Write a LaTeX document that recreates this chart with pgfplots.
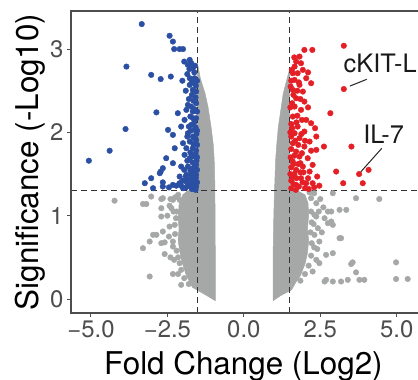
\documentclass[border=0pt]{standalone}
\usepackage{pgfplots}
\pgfplotsset{compat=1.18}
\usepackage{fontspec}
\setmainfont{TeX Gyre Heros}
\definecolor{bluept}{HTML}{2B4FA2}
\definecolor{redpt}{HTML}{E41F26}
\definecolor{graypt}{HTML}{A6A8A8}
\definecolor{axgray}{HTML}{4D4D4D}
\definecolor{dashc}{HTML}{333333}
\begin{document}
\begin{tikzpicture}
\begin{axis}[
  at={(0,0)}, anchor=south west, scale only axis,
  width=347bp, height=302bp,
  xmin=-5.654, xmax=5.697, ymin=-0.168, ymax=3.457,
  axis line style={draw=none},
  xtick={-5,-2.5,0,2.5,5}, xticklabels={−5.0,−2.5,0.0,2.5,5.0},
  ytick={0,1,2,3}, yticklabels={0,1,2,3},
  tick align=outside, xtick pos=bottom, ytick pos=left,
  major tick length=4bp,
  tick style={axgray, line width=1bp},
  ticklabel style={font=\fontsize{24}{24}\selectfont, text=axgray},
  xlabel={Fold Change (Log2)},
  ylabel={Significance (-Log10)},
  xlabel style={at={(axis description cs:0.497,-0.202)}, anchor=base, font=\fontsize{31.5}{31.5}\selectfont, text=black},
  ylabel style={at={(axis description cs:-0.118,0.5)}, anchor=center, font=\fontsize{31.5}{31.5}\selectfont, text=black},
  clip=false,
  every axis plot/.append style={line join=round},
]
% dense gray regions
\addplot[fill=graypt, draw=graypt, line width=0.5bp] coordinates {
(-0.935,-0.02) (-0.935,0.6) (-0.94,1.0) (-0.95,1.4) (-0.97,1.67) (-1.0,1.85) (-1.07,2.06) (-1.17,2.3) (-1.27,2.47) (-1.35,2.56) (-1.43,2.66) (-1.48,2.76) (-1.52,2.83)
(-1.52,1.3) (-1.84,1.3) (-2.0,1.25) (-2.12,1.13) (-2.15,0.97) (-2.12,0.85) (-2.15,0.71) (-2.1,0.58) (-2.02,0.44) (-1.88,0.28) (-1.68,0.14) (-1.3,0.06)
} -- cycle;
\addplot[fill=graypt, draw=graypt, line width=0.5bp] coordinates {
(0.96,-0.02) (0.96,0.6) (0.98,1.0) (1.0,1.27) (1.04,1.67) (1.08,1.87) (1.13,2.07) (1.21,2.27) (1.29,2.47) (1.37,2.58) (1.44,2.68) (1.5,2.76)
(1.5,1.3) (1.75,1.3) (2.0,1.25) (2.1,1.15) (2.12,1.0) (2.08,0.85) (2.12,0.7) (2.08,0.55) (2.0,0.42) (1.85,0.28) (1.7,0.2) (1.56,0.11) (1.2,0.04)
} -- cycle;
% gray fringe points
\addplot[only marks, mark=*, mark size=2.8bp, color=graypt] coordinates {
(-4.23,1.18) (-3.30,1.14) (-3.19,1.14) (-3.03,1.23) (-2.70,1.20) (-2.65,1.21) (-2.70,1.09) (-2.70,0.99) (-2.43,1.12) (-2.37,1.09) (-2.32,1.19) (-2.10,1.19)
(-2.97,0.77) (-2.86,0.77) (-2.65,0.81) (-3.08,0.69) (-3.30,0.61) (-2.59,0.68) (-2.70,0.67) (-2.59,0.54) (-3.08,0.27) (-2.32,0.30) (-2.05,0.17) (-2.10,0.43)
(-2.32,0.69) (-2.43,0.87) (-2.32,0.63) (-2.26,0.89) (-2.50,1.00) (-2.20,1.05) (-2.25,1.22) (-2.40,0.50) (-2.15,0.30)
(-2.22,0.97) (-2.25,0.78) (-2.20,0.58) (-2.15,0.50) (-2.05,0.35) (-1.95,0.25) (-2.30,1.05) (-2.40,1.20) (-2.15,1.25) (-2.28,0.47) (-2.45,0.75) (-1.80,0.18)
(2.91,1.27) (4.43,1.20) (3.67,1.21) (2.86,1.05) (3.13,1.07) (3.35,1.07) (2.75,1.05) (2.64,0.97) (2.75,0.91) (2.91,0.89) (2.86,0.93) (3.18,0.73) (3.13,0.73)
(2.42,0.85) (2.47,0.69) (2.69,0.53) (2.91,0.55) (3.56,0.44) (3.51,0.42) (3.67,0.32) (2.69,0.23) (2.91,0.21) (3.18,0.21) (3.40,0.23) (3.78,0.23) (3.94,0.23)
(4.98,0.44) (4.98,0.24) (5.36,0.24) (2.37,0.99) (2.47,0.43) (2.25,0.33) (2.64,0.21) (2.37,0.47) (2.31,0.77) (2.31,1.01) (2.20,1.21) (2.37,1.15) (2.50,1.20)
(2.30,0.62) (2.55,0.80) (2.60,1.10) (2.28,0.90)
(2.20,1.05) (2.22,0.92) (2.18,0.80) (2.22,0.67) (2.20,0.52) (2.12,0.40) (2.00,0.30) (1.85,0.22) (2.30,1.27) (2.15,1.28) (2.40,0.60) (2.45,1.05)
};
% blue
\addplot[only marks, mark=*, mark size=2.8bp, color=bluept] coordinates {
(-3.34,3.30) (-2.43,3.16) (-2.32,3.09) (-2.28,3.00) (-2.10,3.00) (-1.99,3.00)
(-1.77,2.87) (-1.72,2.83) (-1.83,2.81) (-1.67,2.77) (-1.62,2.72)
(-3.84,2.79) (-3.03,2.69) (-2.72,2.64) (-2.39,2.67) (-2.01,2.62) (-1.77,2.65) (-1.61,2.65) (-1.61,2.59) (-1.77,2.57) (-1.67,2.51) (-1.56,2.49) (-1.70,2.45) (-1.58,2.42)
(-1.83,2.33) (-1.72,2.31) (-1.56,2.35) (-1.62,2.28)
(-2.86,2.24) (-2.16,2.23) (-1.88,2.27) (-1.67,2.25) (-1.94,2.15) (-1.56,2.17) (-1.75,2.19) (-1.62,2.12)
(-2.05,2.07) (-1.72,2.09) (-1.61,2.03) (-2.48,2.03) (-2.32,1.97) (-1.83,1.99) (-1.67,1.95) (-1.55,1.98)
(-3.87,2.04) (-1.99,1.87) (-1.77,1.89) (-1.56,1.91) (-1.65,1.86)
(-2.26,1.81) (-1.88,1.81) (-1.67,1.81) (-1.56,1.78) (-1.75,1.76)
(-4.39,1.78) (-5.07,1.66)
(-2.54,1.69) (-2.32,1.63) (-1.94,1.73) (-1.77,1.69) (-1.61,1.71) (-1.55,1.66) (-1.68,1.64)
(-2.65,1.57) (-2.05,1.59) (-1.83,1.59) (-1.67,1.57) (-1.56,1.61) (-1.75,1.54) (-1.60,1.52)
(-2.75,1.51) (-2.10,1.47) (-1.88,1.49) (-1.72,1.49) (-1.56,1.49) (-1.65,1.45) (-1.80,1.43)
(-3.24,1.39) (-3.03,1.45) (-2.97,1.33) (-2.65,1.35) (-2.32,1.37) (-2.10,1.39) (-1.88,1.41) (-1.77,1.35) (-1.67,1.39) (-1.56,1.35) (-1.99,1.33) (-2.21,1.36)
(-2.72,1.53) (-2.65,1.40) (-1.60,1.42) (-1.70,1.32) (-1.58,1.31) (-1.90,1.34) (-2.45,1.34)
(-1.58,2.06) (-1.65,2.38) (-1.80,2.40) (-1.90,2.50) (-1.85,2.70) (-1.70,2.60) (-1.57,2.56) (-1.95,2.85) (-1.63,1.93) (-1.74,2.02) (-1.85,1.95)
(-1.58,1.74) (-1.70,1.72) (-1.85,1.66) (-1.95,1.55) (-1.62,1.58) (-1.90,1.47) (-2.00,1.42) (-1.57,1.45) (-1.75,1.40) (-1.83,1.37) (-2.05,1.36) (-1.63,1.35) (-1.72,1.43)
(-1.53,1.55) (-1.53,1.70) (-1.53,1.85) (-1.53,2.02) (-1.53,2.25) (-1.53,2.62) (-1.53,1.40) (-1.60,2.80) (-1.78,2.76) (-1.66,2.17) (-1.80,2.07) (-1.70,1.52)
};
% red
\addplot[only marks, mark=*, mark size=2.8bp, color=redpt] coordinates {
(1.98,2.99) (2.24,2.99) (3.27,3.04) (1.82,2.91) (1.71,2.85) (1.66,2.79) (1.87,2.83) (1.60,2.71) (1.76,2.71) (1.93,2.75) (1.66,2.63) (2.04,2.65) (2.20,2.59)
(1.82,2.57) (1.60,2.51) (1.93,2.49) (3.27,2.52) (1.71,2.41) (1.98,2.37) (1.66,2.31) (1.87,2.27) (2.83,2.23) (1.60,2.19) (2.04,2.15) (2.20,2.11) (1.76,2.07)
(1.66,1.99) (1.98,2.01) (2.37,1.95) (1.82,1.93) (1.60,1.87) (2.15,1.89) (1.98,1.83) (2.37,1.79) (2.62,1.83) (2.33,2.05) (3.52,1.83)
(1.71,1.77) (1.82,1.71) (2.09,1.69) (1.60,1.65) (2.25,1.61) (1.93,1.59) (1.71,1.55) (2.15,1.53) (3.02,1.53) (1.60,1.47) (1.87,1.45) (2.40,1.47)
(2.47,1.36) (3.25,1.39) (3.77,1.50) (4.08,1.55) (3.89,1.39) (2.04,1.39) (1.71,1.37) (2.25,1.39)
(1.55,2.62) (1.58,2.35) (1.55,2.10) (1.62,2.45) (1.75,2.20) (1.90,2.15) (1.55,1.95) (1.68,1.90) (1.88,1.98) (1.55,1.80) (1.65,1.72) (1.90,1.75) (2.00,1.90)
(1.55,1.58) (1.78,1.62) (1.95,1.52) (1.55,1.42) (1.65,1.50) (1.80,1.35) (1.92,1.40) (1.55,1.33) (1.62,1.38) (1.70,1.31) (2.00,1.33) (2.12,1.32) (2.30,1.34)
(1.85,1.52) (2.10,1.45) (2.20,1.78) (1.75,2.50) (1.85,2.40) (2.10,2.30) (1.65,2.90) (1.80,2.60) (2.10,2.72)
(1.52,1.50) (1.53,1.70) (1.52,2.00) (1.52,2.30) (1.53,2.55) (1.57,2.75) (1.58,2.05) (1.72,2.12) (1.72,1.45) (1.78,1.85) (1.62,1.62) (1.85,1.63)
};
% threshold lines
\addplot[dashc, line width=1bp, dash pattern=on 6bp off 4bp] coordinates {(-1.5,-0.168) (-1.5,3.457)};
\addplot[dashc, line width=1bp, dash pattern=on 6bp off 4bp] coordinates {(1.5,-0.168) (1.5,3.457)};
\addplot[dashc, line width=1bp, dash pattern=on 6bp off 4bp] coordinates {(-5.654,1.3) (5.697,1.3)};
% annotations
\addplot[black!85, line width=1bp] coordinates {(3.47,2.556) (4.02,2.637)};
\addplot[black!85, line width=1bp] coordinates {(3.83,1.528) (4.51,1.808)};
\node[anchor=base west, inner sep=0, font=\fontsize{25.5}{25.5}\selectfont, text=black!90] at (axis cs:3.26,2.724) {cKIT-L};
\node[anchor=base west, inner sep=0, font=\fontsize{25.5}{25.5}\selectfont, text=black!90] at (axis cs:3.90,1.868) {IL-7};
% spines
\draw[axgray, line width=1.2bp] (rel axis cs:1,1) -- (rel axis cs:0,1) -- (rel axis cs:0,0) -- (rel axis cs:1,0);
\end{axis}
\pgfresetboundingbox
\useasboundingbox (-71bp,-67bp) rectangle (347bp,313bp);
\end{tikzpicture}
\end{document}
